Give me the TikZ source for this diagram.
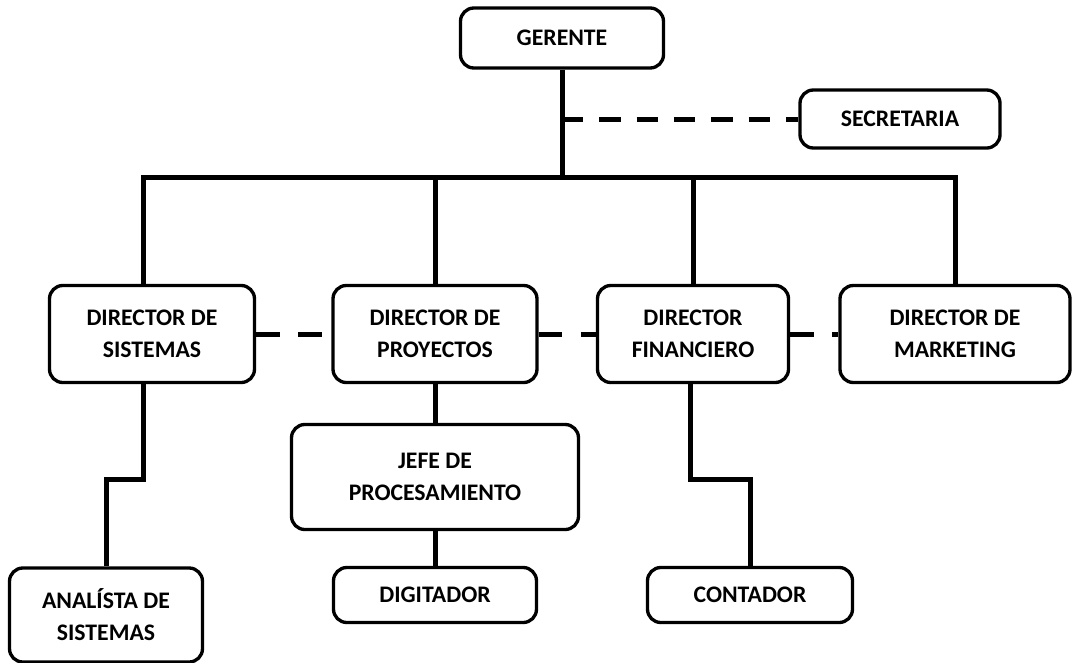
\documentclass[tikz,border=0pt]{standalone}
\usepackage{fontspec}
\setmainfont{Carlito}
\begin{document}
\begin{tikzpicture}[x=0.75pt,y=-0.75pt,
  cargo/.style n args={2}{draw=black, line width=2.5pt, rounded corners=10pt, fill=white,
    align=center, inner sep=0pt, font=\fontsize{17.8}{24}\selectfont\bfseries,
    minimum width=#1*0.75pt, minimum height=#2*0.75pt},
  linea/.style={line width=3.75pt},
  staff/.style={line width=3.75pt, dash pattern=on 17.5pt off 14pt}]
\useasboundingbox (0,0) rectangle (1074,662);
% cargos
\node[cargo={203}{60}] (gerente) at (562,38) {GERENTE};
\node[cargo={200}{58}] (secretaria) at (900,119) {SECRETARIA};
\node[cargo={205}{97}] (dsistemas) at (152,334) {DIRECTOR DE\\SISTEMAS};
\node[cargo={204}{97}] (dproyectos) at (435,334) {DIRECTOR DE\\PROYECTOS};
\node[cargo={191}{97}] (dfinanciero) at (693,334) {DIRECTOR\\FINANCIERO};
\node[cargo={230}{97}] (dmarketing) at (955,334) {DIRECTOR DE\\MARKETING};
\node[cargo={287}{105}] (jefe) at (435,477) {JEFE DE\\PROCESAMIENTO};
\node[cargo={203}{55}] (digitador) at (435,595) {DIGITADOR};
\node[cargo={205}{55}] (contador) at (750,595) {CONTADOR};
\node[cargo={193}{94}] (analista) at (106,615) {ANALÍSTA DE\\SISTEMAS};
% puntos de quiebre
\coordinate (bus) at (562,177);
\coordinate (b1) at (143,177);
\coordinate (b4) at (dmarketing.north |- bus);
\coordinate (s1) at (143,479);
\coordinate (f1) at (690,479);
% lineas de mando
\draw[linea] (gerente.south) -- (bus);
\draw[linea] (b1 |- dsistemas.north) -- (b1) -- (b4) -- (dmarketing.north);
\draw[linea] (dproyectos.north |- bus) -- (dproyectos.north);
\draw[linea] (dfinanciero.north |- bus) -- (dfinanciero.north);
\draw[linea] (dproyectos.south) -- (jefe.north);
\draw[linea] (jefe.south) -- (digitador.north);
\draw[linea] (s1 |- dsistemas.south) -- (s1) -| (analista.north);
\draw[linea] (f1 |- dfinanciero.south) -- (f1) -| (contador.north);
% staff
\draw[staff, dash pattern=on 16pt off 12pt] (gerente.south |- secretaria.west) -- (secretaria.west);
\draw[staff] (dsistemas.east) -- (dproyectos.west);
\draw[staff] (dproyectos.east) -- (dfinanciero.west);
\draw[staff] (dfinanciero.east) -- (dmarketing.west);
\end{tikzpicture}
\end{document}
